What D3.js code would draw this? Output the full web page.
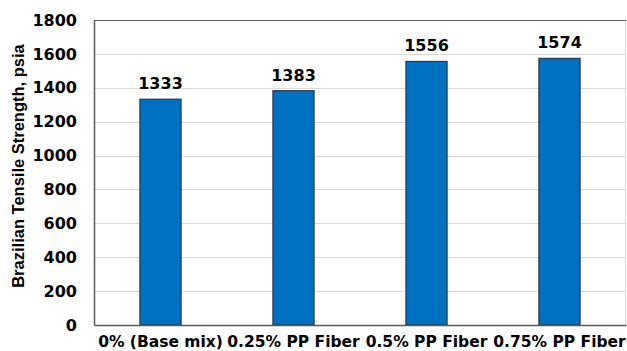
<!DOCTYPE html>
<html>
<head>
<meta charset="utf-8">
<script src="https://cdn.jsdelivr.net/npm/d3@7"></script>
<style>
  html, body { margin: 0; padding: 0; background: #fff; }
  svg { display: block; }
</style>
</head>
<body>
<svg id="chart" width="627" height="351"></svg>
<script>
// Brazilian tensile strength by polypropylene fiber content
const categories = ["0% (Base mix)", "0.25% PP Fiber", "0.5% PP Fiber", "0.75% PP Fiber"];
const strengths = [1333, 1383, 1556, 1574];
const yTicks = [0, 200, 400, 600, 800, 1000, 1200, 1400, 1600, 1800];
const yTitle = "Brazilian Tensile Strength, psia";

const W = 627, H = 351;
const margin = { top: 20, right: 1, bottom: 26, left: 94 };
const plotW = W - margin.left - margin.right;
const plotH = H - margin.top - margin.bottom;

const svg = d3.select("#chart");
const g = svg.append("g").attr("transform", `translate(${margin.left},${margin.top})`);

const x = d3.scaleBand().domain(categories).range([0, plotW]).paddingInner(0.69).paddingOuter(0.345);
const y = d3.scaleLinear().domain([0, 1800]).range([plotH, 0]);

const labelFont = "'DejaVu Sans', Verdana, sans-serif";

// horizontal gridlines
g.append("g")
  .selectAll("line")
  .data(yTicks.filter(t => t > 0 && t < 1800))
  .join("line")
  .attr("x1", 0).attr("x2", plotW)
  .attr("y1", d => Math.round(y(d)) + 0.5).attr("y2", d => Math.round(y(d)) + 0.5)
  .attr("stroke", "#d9d9d9").attr("stroke-width", 1);

// right frame edge (light)
g.append("line")
  .attr("x1", plotW - 0.5).attr("x2", plotW - 0.5)
  .attr("y1", 0).attr("y2", plotH)
  .attr("stroke", "#d9d9d9");

// bars
g.append("g")
  .selectAll("rect")
  .data(categories)
  .join("rect")
  .attr("x", d => x(d))
  .attr("y", (d, i) => y(strengths[i]))
  .attr("width", x.bandwidth())
  .attr("height", (d, i) => plotH - y(strengths[i]))
  .attr("fill", "#0070c0")
  .attr("stroke", "#1f2a33")
  .attr("stroke-width", 1);

// value labels
g.append("g")
  .selectAll("text")
  .data(categories)
  .join("text")
  .attr("x", d => x(d) + x.bandwidth() / 2)
  .attr("y", (d, i) => y(strengths[i]) - 10)
  .attr("text-anchor", "middle")
  .attr("font-family", labelFont)
  .attr("font-weight", "bold")
  .attr("font-size", "16px")
  .attr("fill", "#000")
  .text((d, i) => strengths[i]);

// top frame (dark)
g.append("line")
  .attr("x1", 0).attr("x2", plotW).attr("y1", 0.5).attr("y2", 0.5)
  .attr("stroke", "#595959").attr("stroke-width", 1.2);

// y axis
const yAxis = g.append("g")
  .call(d3.axisLeft(y).tickValues(yTicks).tickSize(0).tickPadding(17).tickFormat(d3.format("d")));
yAxis.select(".domain").attr("stroke", "#595959").attr("stroke-width", 1.5);
yAxis.selectAll("text")
  .attr("font-family", labelFont)
  .attr("font-weight", "bold")
  .attr("font-size", "16px")
  .attr("fill", "#000");

// x axis
const xAxis = g.append("g")
  .attr("transform", `translate(0,${plotH})`)
  .call(d3.axisBottom(x).tickSize(0).tickPadding(11));
xAxis.select(".domain").attr("stroke", "#595959").attr("stroke-width", 1.5);
xAxis.selectAll("text")
  .attr("font-family", labelFont)
  .attr("font-weight", "bold")
  .attr("font-size", "15.5px")
  .attr("fill", "#000");

// y axis title
svg.append("text")
  .attr("transform", `translate(24,166) rotate(-90)`)
  .attr("text-anchor", "middle")
  .attr("font-family", "'Liberation Sans', Arial, sans-serif")
  .attr("font-weight", "bold")
  .attr("font-size", "16.5px")
  .attr("fill", "#000")
  .text(yTitle);
</script>
</body>
</html>
